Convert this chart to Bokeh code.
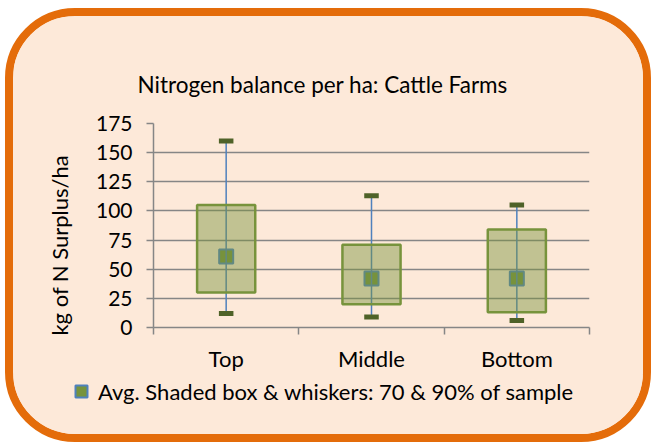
import numpy as np
from bokeh.plotting import figure
from bokeh.layouts import column
from bokeh.models import Range1d, FixedTicker, Legend, LegendItem, LinearAxis
from bokeh.embed import file_html
from bokeh.resources import INLINE

# ---- data ----
categories = ["Top", "Middle", "Bottom"]
avg_values = [61, 42, 42]
box_low = [30, 20, 13]
box_high = [105, 71, 84]
whisker_low = [12, 9, 6]
whisker_high = [160, 113, 105]
y_ticks = [0, 25, 50, 75, 100, 125, 150, 175]
title_text = "Nitrogen balance per ha: Cattle Farms"
y_label = "kg of N Surplus/ha"
legend_label = "Avg. Shaded box & whiskers: 70 & 90% of sample"

FONT = "Lato"
BG = "#fde9d9"
GRID = "#868686"
BOX = "#77933c"
WHISK = "#4f81bd"
CAP = "#4f6228"

x = np.arange(len(categories)) + 0.5
cap_half = 0.05

# ---------------- main chart ----------------
p = figure(frame_width=436, frame_height=206, x_range=Range1d(0, len(categories)),
           y_range=Range1d(y_ticks[0], y_ticks[-1]),
           output_backend="svg", toolbar_location=None,
           min_border_left=140, min_border_right=54,
           min_border_top=107, min_border_bottom=45)
p.background_fill_color = BG
p.border_fill_color = BG
p.outline_line_color = None

p.title.text = title_text
p.title.align = "left"
p.title.offset = -16
p.title.standoff = 51
p.title.text_font = FONT
p.title.text_font_size = "22.5px"
p.title.text_font_style = "normal"
p.title.text_color = "#000000"

# grid
p.xgrid.grid_line_color = None
p.ygrid.grid_line_color = GRID
p.ygrid.grid_line_width = 1.5
p.ygrid.ticker = FixedTicker(ticks=y_ticks)

# y axis
ya = p.yaxis[0]
ya.ticker = FixedTicker(ticks=y_ticks)
ya.axis_line_color = GRID
ya.axis_line_width = 1.5
ya.major_tick_line_color = GRID
ya.major_tick_line_width = 1.5
ya.major_tick_out = 7
ya.major_tick_in = 0
ya.minor_tick_line_color = None
ya.major_label_text_font = FONT
ya.major_label_text_font_size = "21px"
ya.major_label_text_color = "#000000"
ya.major_label_standoff = 14
# trailing no-break spaces shift the centred label slightly downward, as in the original
ya.axis_label = y_label + "\u00a0" * 7
ya.axis_label_text_font = FONT
ya.axis_label_text_font_size = "22px"
ya.axis_label_text_font_style = "normal"
ya.axis_label_text_color = "#000000"
ya.axis_label_standoff = 20

# x axis: ticks at the category boundaries (no labels)
boundaries = list(range(len(categories) + 1))
xa = p.xaxis[0]
xa.ticker = FixedTicker(ticks=boundaries)
xa.major_label_overrides = {b: "" for b in boundaries}
xa.axis_line_color = GRID
xa.axis_line_width = 1.5
xa.major_tick_line_color = GRID
xa.major_tick_line_width = 1.5
xa.major_tick_out = 7
xa.major_tick_in = 0
xa.minor_tick_line_color = None
xa.major_label_text_font_size = "1px"
xa.major_label_standoff = 0

# x axis: category labels at the category centres
xl = LinearAxis(ticker=FixedTicker(ticks=list(x)),
                major_label_overrides={float(v): c for v, c in zip(x, categories)})
xl.axis_line_color = None
xl.major_tick_line_color = None
xl.minor_tick_line_color = None
xl.major_label_text_font = FONT
xl.major_label_text_font_size = "22px"
xl.major_label_text_color = "#000000"
xl.major_label_standoff = 4
p.add_layout(xl, "below")

# marks
p.scatter(x, avg_values, marker="square", size=14,
          fill_color=BOX, line_color=WHISK, line_width=2)
p.segment(x, whisker_low, x, whisker_high, line_color=WHISK, line_width=1.5)
p.vbar(x=x, bottom=box_low, top=box_high, width=0.4,
       fill_color=BOX, fill_alpha=0.45, line_color=BOX, line_width=2.5)
p.segment(x - cap_half, whisker_high, x + cap_half, whisker_high,
          line_color=CAP, line_width=5)
p.segment(x - cap_half, whisker_low, x + cap_half, whisker_low,
          line_color=CAP, line_width=5)

# ---------------- legend strip ----------------
lg = figure(width=630, height=60, x_range=Range1d(0, 1), y_range=Range1d(0, 1),
            x_axis_type=None, y_axis_type=None,
            output_backend="svg", toolbar_location=None,
            min_border=0, min_border_left=0, min_border_right=0,
            min_border_top=0, min_border_bottom=0)
lg.frame_align = False
lg.background_fill_color = BG
lg.border_fill_color = BG
lg.outline_line_color = None
lg.xgrid.visible = False
lg.ygrid.visible = False
# legend swatch renderer (same style as the average markers, hidden in this strip)
proxy = lg.scatter(x, avg_values, marker="square", size=14,
                   fill_color=BOX, line_color=WHISK, line_width=2, visible=False)
legend = Legend(items=[LegendItem(label=legend_label, renderers=[proxy])],
                location=(53, 28), padding=0, margin=0, spacing=0,
                glyph_width=30, glyph_height=30, label_standoff=2,
                label_text_font=FONT, label_text_font_size="22px",
                label_text_color="#000000",
                inactive_fill_alpha=0,
                click_policy="none",
                background_fill_alpha=0, border_line_color=None)
lg.add_layout(legend, "center")

card = column(p, lg, width=646, height=434, spacing=0,
              styles={"border": "8px solid #e46c0a", "border-radius": "70px",
                      "background-color": BG, "overflow": "hidden",
                      "margin-left": "5px", "margin-top": "8px"})

open("out.html", "w").write(file_html(card, INLINE))
